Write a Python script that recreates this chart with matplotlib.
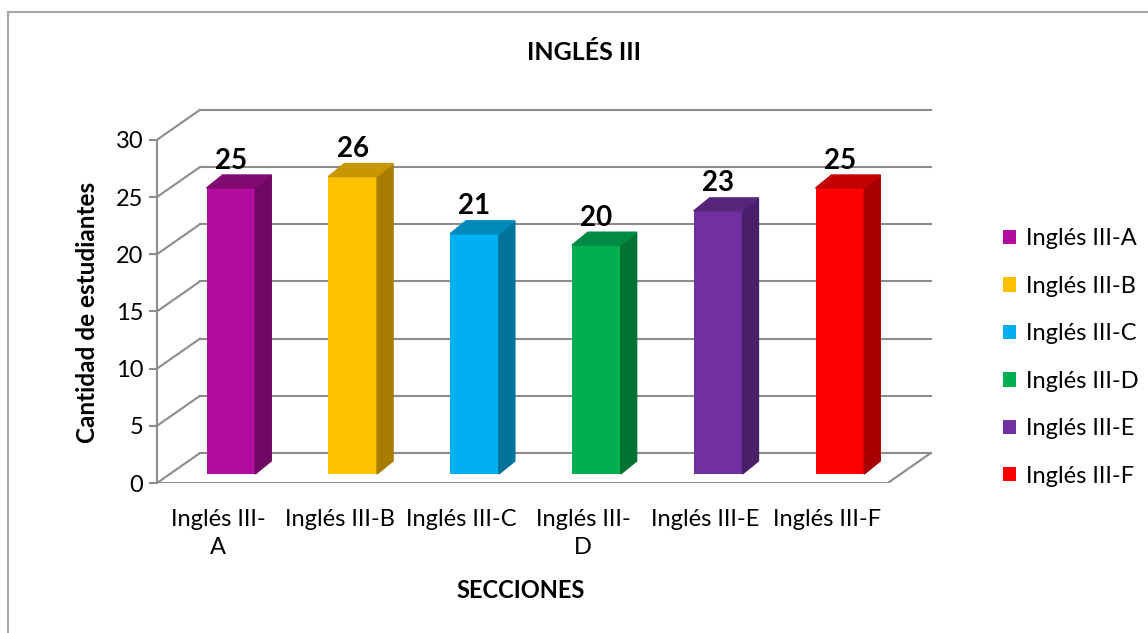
import matplotlib
matplotlib.use("Agg")
import matplotlib.pyplot as plt
from matplotlib.patches import Polygon, Rectangle, Patch

plt.rcParams['font.family'] = ['Lato', 'DejaVu Sans']

# data
secciones = ["Inglés III-A", "Inglés III-B", "Inglés III-C",
             "Inglés III-D", "Inglés III-E", "Inglés III-F"]
tick_labels = ["Inglés III-\nA", "Inglés III-B", "Inglés III-C",
               "Inglés III-\nD", "Inglés III-E", "Inglés III-F"]
estudiantes = [25, 26, 21, 20, 23, 25]
colores = ["#B30D9F", "#FFC000", "#00B0F0", "#00B050", "#7030A0", "#FF0000"]
lados = ["#6F0862", "#A67D00", "#00739C", "#007334", "#481F68", "#A60000"]
techos = ["#820A73", "#C79600", "#0089BB", "#008A42", "#57257C", "#C40000"]
y_ticks = [0, 5, 10, 15, 20, 25, 30]

W, H = 1148, 633
fig = plt.figure(figsize=(W / 100, H / 100), dpi=100)

# plot area mapped to pixels: x in slot units, y in value units
px_x = 121.8
px_y = 11.44
x0_px, y0_px = 157, 483
xmax, ymax = 6.4, 33.0
ax = fig.add_axes([x0_px / W, (H - y0_px) / H,
                   xmax * px_x / W, ymax * px_y / H])
ax.set_xlim(0, xmax)
ax.set_ylim(0, ymax)

grey = "#8C8C8C"
# depth of the 3d box
wdx, wdy = 43 / px_x, 30 / px_y
n = len(estudiantes)

# back wall gridlines + side diagonals
for v in y_ticks:
    ax.plot([wdx, n + wdx], [v + wdy, v + wdy], color=grey, lw=1.5, zorder=1)
    ax.plot([0, wdx], [v, v + wdy], color=grey, lw=1.5, zorder=1)
# floor
ax.plot([0, n], [0, 0], color=grey, lw=2.2, zorder=1)
ax.plot([n, n + wdx], [0, wdy], color=grey, lw=1.5, zorder=1)

# bars
bdx, bdy = 13 / px_x, 9 / px_y
sdx, sdy = 16 / px_x, 13 / px_y
bw = 0.40
for i, v in enumerate(estudiantes):
    xc = i + 0.5 + bdx
    ax.bar(xc, v, width=bw, bottom=bdy, color=colores[i], zorder=3)
    xl, xr = xc - bw / 2, xc + bw / 2
    top = bdy + v
    ax.add_patch(Polygon([(xr, bdy), (xr + sdx, bdy + sdy), (xr + sdx, top + sdy), (xr, top)],
                         closed=True, color=lados[i], zorder=3))
    ax.add_patch(Polygon([(xl, top), (xr, top), (xr + sdx, top + sdy), (xl + sdx, top + sdy)],
                         closed=True, color=techos[i], zorder=3))
    ax.annotate(str(v), (xc, top + sdy), xytext=(0, 1), textcoords="offset points",
                ha="center", va="bottom", fontsize=20, fontweight="bold", zorder=4)

# axes styling
for s in ["top", "right", "bottom"]:
    ax.spines[s].set_visible(False)
ax.spines["left"].set_bounds(0, 30)
ax.spines["left"].set_color(grey)
ax.spines["left"].set_linewidth(1.5)
ax.set_yticks(y_ticks)
ax.tick_params(axis="y", direction="out", length=6, width=1.5, color=grey,
               labelsize=17, pad=4)
ax.set_xticks([i + 0.5 for i in range(n)])
ax.set_xticklabels(tick_labels, fontsize=17, linespacing=1.4)
ax.tick_params(axis="x", length=0, pad=19)

fig.text(88 / W, 1 - 312 / H, "Cantidad de estudiantes", ha="center", va="center",
         rotation=90, fontsize=17.5, fontweight="bold")
fig.text(521 / W, 1 - 590 / H, "SECCIONES", ha="center", va="center",
         fontsize=17, fontweight="bold")
fig.text(584 / W, 1 - 52 / H, "INGLÉS III", ha="center", va="center",
         fontsize=18, fontweight="bold")

handles = [Patch(facecolor=c, edgecolor="none", label=l) for c, l in zip(colores, secciones)]
fig.legend(handles=handles, loc="upper left", bbox_to_anchor=(994 / W, 1 - 219 / H),
           frameon=False, fontsize=17, handlelength=0.55, handleheight=0.55,
           handletextpad=0.4, labelspacing=1.12, borderaxespad=0)

# chart border
fig.add_artist(Rectangle((8 / W, -0.1), 1.2, (H - 12) / H + 0.1, transform=fig.transFigure,
                         fill=False, edgecolor="#A6A6A6", lw=1.5))

fig.savefig("out.png", dpi=100)
